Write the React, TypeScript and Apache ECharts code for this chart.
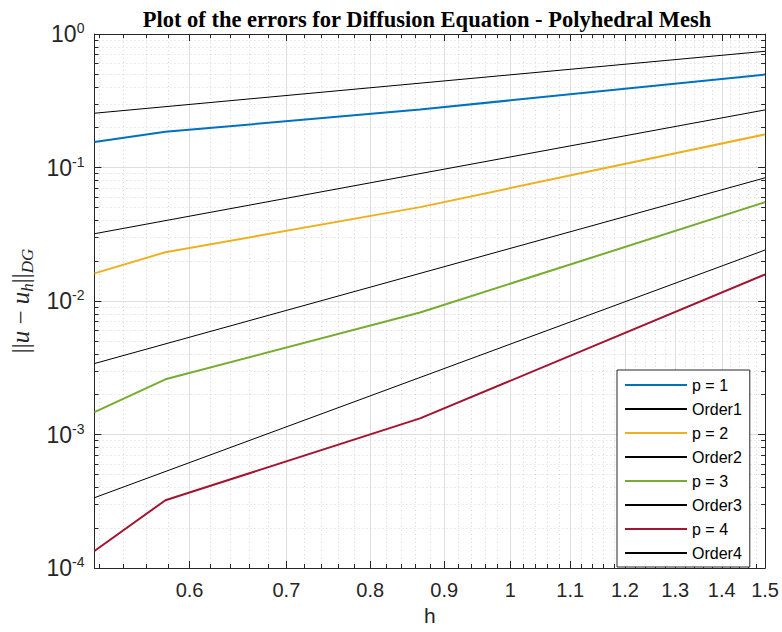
import React, { useEffect, useRef } from 'react';
import * as echarts from 'echarts';

// ---- data ----
const hValues = [0.5157, 0.5774, 0.866, 1.5];
const p1Errors = [0.155, 0.185, 0.272, 0.497];
const p2Errors = [0.0161, 0.0232, 0.0505, 0.177];
const p3Errors = [0.00147, 0.00259, 0.0082, 0.055];
const p4Errors = [0.000134, 0.000322, 0.00132, 0.0158];

const orderH = [0.5157, 1.5];
const order1 = [0.255, 0.742];
const order2 = [0.0319, 0.27];
const order3 = [0.0034, 0.0837];
const order4 = [0.000336, 0.0241];

const xTickValues = [0.6, 0.7, 0.8, 0.9, 1, 1.1, 1.2, 1.3, 1.4, 1.5];
const xTickLabels = ['0.6', '0.7', '0.8', '0.9', '1', '1.1', '1.2', '1.3', '1.4', '1.5'];
const yDecades = [-4, -3, -2, -1, 0];
const yTickLabels = ['-4', '-3', '-2', '-1', '0'];
const yMinorMultipliers = [2, 3, 4, 5, 6, 7, 8, 9];

const seriesNames = ['p = 1', 'Order1', 'p = 2', 'Order2', 'p = 3', 'Order3', 'p = 4', 'Order4'];
const colors = ['#0072BD', '#000000', '#EDB120', '#000000', '#77AC30', '#000000', '#A2142F', '#000000'];

const SANS = '"Liberation Sans", Arial, Helvetica, sans-serif';
const SERIF = '"Liberation Serif", "Times New Roman", serif';
const AX = '#262626';

export default function App() {
  const ref = useRef<HTMLDivElement>(null);
  useEffect(() => {
    if (!ref.current) return;
    const chart = echarts.init(ref.current, null, { renderer: 'svg' });

    const xMin = Math.log10(hValues[0]);
    const xMax = Math.log10(hValues[hValues.length - 1]);
    const majorX = xTickValues.map((v) => Math.log10(v));
    const minorXRaw: number[] = [];
    for (let i = 26; i <= 74; i++) {
      if (i % 5 !== 0) minorXRaw.push(i / 50);
    }
    const minorX = minorXRaw.map((v) => Math.log10(v));
    const minorY: number[] = [];
    for (let k = -4; k < 0; k++) {
      yMinorMultipliers.forEach((m) => minorY.push(Math.log10(m) + k));
    }

    const toPts = (hs: number[], vs: number[]) => hs.map((h, i) => [Math.log10(h), Math.log10(vs[i])]);
    const allData = [
      toPts(hValues, p1Errors),
      toPts(orderH, order1),
      toPts(hValues, p2Errors),
      toPts(orderH, order2),
      toPts(hValues, p3Errors),
      toPts(orderH, order3),
      toPts(hValues, p4Errors),
      toPts(orderH, order4),
    ];

    const xLabelFmt = (v: number) => {
      let best = 0;
      let bd = Infinity;
      majorX.forEach((m, i) => {
        const d = Math.abs(m - v);
        if (d < bd) { bd = d; best = i; }
      });
      return xTickLabels[best];
    };
    const yLabelFmt = (v: number) => {
      const idx = yDecades.findIndex((d) => Math.abs(d - v) < 1e-6);
      const e = idx >= 0 ? yTickLabels[idx] : String(Math.round(v));
      return `{b|10}{s|${e}}`;
    };

    const axisLine = { show: true, onZero: false, lineStyle: { color: AX, width: 1 } };
    const noLine = { show: false, onZero: false };
    const minorGrid = { show: true, lineStyle: { color: '#d6d6d6', width: 1, type: [1, 3] } };
    const majorGrid = { show: true, lineStyle: { color: '#dedede', width: 1 } };

    const option: any = {
      animation: false,
      backgroundColor: '#ffffff',
      grid: { left: 90, right: 16, top: 34, bottom: 64, containLabel: false },
      graphic: [
        {
          type: 'text',
          x: 427,
          y: 19,
          style: {
            text: 'Plot of the errors for Diffusion Equation - Polyhedral Mesh',
            font: `bold 22.5px ${SERIF}`,
            fill: '#000000',
            textAlign: 'center',
            textVerticalAlign: 'middle',
          },
        },
      ],
      legend: {
        orient: 'vertical',
        left: 617,
        top: 370,
        padding: [7, 8, 6, 7],
        itemWidth: 62,
        itemHeight: 14,
        itemGap: 8,
        backgroundColor: '#ffffff',
        borderColor: AX,
        borderWidth: 1,
        borderRadius: 0,
        data: seriesNames,
        itemStyle: { opacity: 0 },
        textStyle: { fontSize: 16, color: '#000000', fontFamily: SANS },
      },
      xAxis: [
        {
          type: 'value', gridIndex: 0, position: 'bottom', min: xMin, max: xMax,
          axisLine,
          axisTick: { show: true, inside: true, length: 7, customValues: majorX, lineStyle: { color: AX } },
          axisLabel: { show: true, customValues: majorX, formatter: xLabelFmt, margin: 12, fontSize: 20, color: AX, fontFamily: SANS, showMinLabel: true, showMaxLabel: true },
          splitLine: majorGrid,
          name: 'h', nameLocation: 'middle', nameGap: 36,
          nameTextStyle: { fontSize: 21, color: AX, fontFamily: SANS },
        },
        {
          type: 'value', gridIndex: 0, position: 'top', min: xMin, max: xMax,
          axisLine,
          axisTick: { show: true, inside: true, length: 7, customValues: majorX, lineStyle: { color: AX } },
          axisLabel: { show: false },
          splitLine: { show: false },
        },
        {
          type: 'value', gridIndex: 0, position: 'bottom', min: xMin, max: xMax,
          axisLine: noLine,
          axisTick: { show: true, inside: true, length: 4, customValues: minorX, lineStyle: { color: AX } },
          axisLabel: { show: false },
          splitLine: minorGrid,
        },
        {
          type: 'value', gridIndex: 0, position: 'top', min: xMin, max: xMax,
          axisLine: noLine,
          axisTick: { show: true, inside: true, length: 4, customValues: minorX, lineStyle: { color: AX } },
          axisLabel: { show: false },
          splitLine: { show: false },
        },
      ],
      yAxis: [
        {
          type: 'value', gridIndex: 0, position: 'left', min: -4, max: 0, interval: 1,
          axisLine,
          axisTick: { show: true, inside: true, length: 7, lineStyle: { color: AX } },
          axisLabel: {
            show: true, formatter: yLabelFmt, margin: 10,
            rich: {
              b: { fontSize: 23, lineHeight: 26, color: AX, fontFamily: SANS },
              s: { fontSize: 14, lineHeight: 16, color: AX, fontFamily: SANS, verticalAlign: 'top' },
            },
          },
          splitLine: majorGrid,
          name: '{n|||}{i|u}{n| − }{i|u}{sb|h}{n|||}{sb|DG}',
          nameLocation: 'middle', nameGap: 57, nameRotate: 90,
          nameTextStyle: {
            color: AX,
            rich: {
              n: { fontSize: 25, lineHeight: 30, fontFamily: SERIF, color: AX },
              i: { fontSize: 25, lineHeight: 30, fontFamily: SERIF, fontStyle: 'italic', color: AX },
              sb: { fontSize: 17, lineHeight: 17, fontFamily: SERIF, fontStyle: 'italic', color: AX, verticalAlign: 'bottom' },
            },
          },
        },
        {
          type: 'value', gridIndex: 0, position: 'right', min: -4, max: 0, interval: 1,
          axisLine,
          axisTick: { show: true, inside: true, length: 7, lineStyle: { color: AX } },
          axisLabel: { show: false },
          splitLine: { show: false },
        },
        {
          type: 'value', gridIndex: 0, position: 'left', min: -4, max: 0,
          axisLine: noLine,
          axisTick: { show: true, inside: true, length: 4, customValues: minorY, lineStyle: { color: AX } },
          axisLabel: { show: false },
          splitLine: minorGrid,
        },
        {
          type: 'value', gridIndex: 0, position: 'right', min: -4, max: 0,
          axisLine: noLine,
          axisTick: { show: true, inside: true, length: 4, customValues: minorY, lineStyle: { color: AX } },
          axisLabel: { show: false },
          splitLine: { show: false },
        },
      ],
      series: seriesNames.map((name, i) => ({
        name,
        type: 'line',
        xAxisIndex: 0,
        yAxisIndex: 0,
        data: allData[i],
        symbol: 'none',
        showSymbol: false,
        color: colors[i],
        lineStyle: { color: colors[i], width: i % 2 === 0 ? 2 : 1 },
        z: 3,
      })),
    };

    chart.setOption(option);
    return () => chart.dispose();
  }, []);

  return (
    <div
      ref={ref}
      style={{ position: 'absolute', left: 0, top: 0, width: 782, height: 632, background: '#ffffff' }}
    />
  );
}
